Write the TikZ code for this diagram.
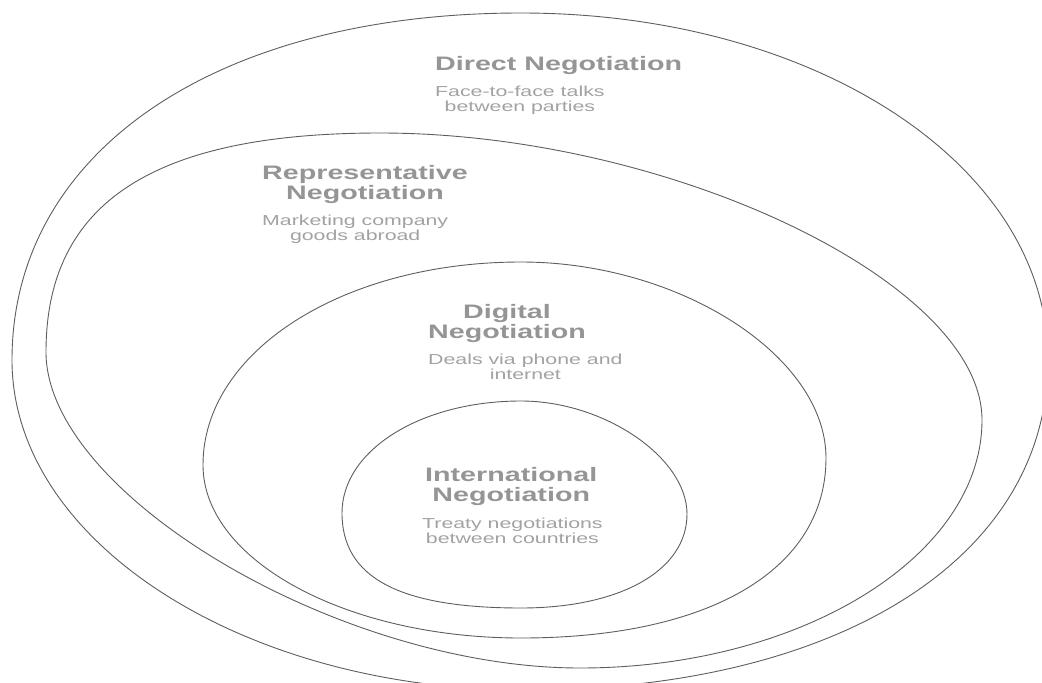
\documentclass[tikz,border=0pt]{standalone}
\usepackage{fontspec}
\newfontfamily\lsans[FakeStretch=1.47]{Liberation Sans}
\definecolor{ttl}{HTML}{959595}
\definecolor{subc}{HTML}{A2A2A2}
\definecolor{ln}{HTML}{5E5E5E}
\tikzset{
  ring/.style={draw=ln, line width=0.9pt},
  ttlstyle/.style={font=\lsans\bfseries\fontsize{19.5}{20}\selectfont, text=ttl, align=center, anchor=north west, inner sep=0pt},
  substyle/.style={font=\lsans\fontsize{14.5}{15}\selectfont, text=subc, align=center, anchor=north west, inner sep=0pt}
}
% #1,#2 top  #3,#4 right  #5,#6 bottom  #7,#8 left  #9 = k for top-right; then k2,k3,k4 read by \blobrest
\newcommand\myblob[9]{\def\bxt{#1}\def\byt{#2}\def\bxr{#3}\def\byr{#4}\def\bxb{#5}\def\byb{#6}\def\bxl{#7}\def\byl{#8}\def\bka{#9}\myblobrest}
\newcommand\myblobrest[3]{%
  \draw[ring] (\bxt,\byt)
    .. controls ({\bxt+\bka*(\bxr-\bxt)},\byt) and (\bxr,{\byr-\bka*(\byr-\byt)}) .. (\bxr,\byr)
    .. controls (\bxr,{\byr+#1*(\byb-\byr)}) and ({\bxb+#1*(\bxr-\bxb)},\byb) .. (\bxb,\byb)
    .. controls ({\bxb-#2*(\bxb-\bxl)},\byb) and (\bxl,{\byl+#2*(\byb-\byl)}) .. (\bxl,\byl)
    .. controls (\bxl,{\byl-#3*(\byl-\byt)}) and ({\bxt-#3*(\bxt-\bxl)},\byt) .. cycle;}
\begin{document}
\begin{tikzpicture}[x=1pt, y=-1pt]
\useasboundingbox (0,0) rectangle (1042,683);
\begin{scope}
\clip (0,0) rectangle (1042,683);
% Direct (outer)
\myblob{521}{13}{1048}{360}{525}{690}{12}{360}{0.56}{0.6}{0.55}{0.6}
% Representative
\myblob{380}{133}{982}{420}{580}{668}{46}{352}{0.48}{0.55}{0.45}{0.68}
% Digital
\myblob{521}{262}{826}{458}{521}{638}{203}{465}{0.52}{0.62}{0.55}{0.56}
% International
\myblob{521}{401}{687}{514}{521}{608}{342}{513}{0.5}{0.6}{0.68}{0.56}
\end{scope}
\node[ttlstyle] (dt) at (435,56) {Direct Negotiation};
\node[substyle] (ds) at (435,86) {Face-to-face talks\\between parties};
\node[ttlstyle] (rt) at (262,165) {Representative\\Negotiation};
\node[substyle] (rs) at (262,215) {Marketing company\\goods abroad};
\node[ttlstyle] (gt) at (428,304) {Digital\\Negotiation};
\node[substyle] (gs) at (428,354) {Deals via phone and\\internet};
\node[ttlstyle] (it) at (425,467) {International\\Negotiation};
\node[substyle] (is) at (422,517.5) {Treaty negotiations\\between countries};
\end{tikzpicture}
\end{document}
